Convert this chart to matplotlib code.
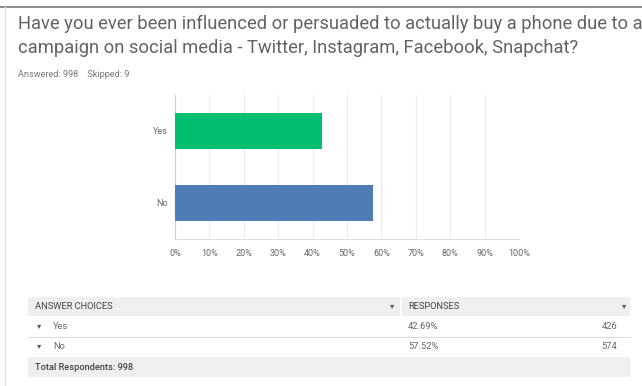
import matplotlib
matplotlib.use("Agg")
import matplotlib.pyplot as plt
from matplotlib.patches import Rectangle
from matplotlib.lines import Line2D

plt.rcParams["font.family"] = ["Roboto", "DejaVu Sans"]

categories = ["Yes", "No"]
shares = [42.69, 57.52]
counts = [426, 574]
bar_colors = ["#00bf6f", "#507cb6"]
ticks = list(range(0, 101, 10))
tick_labels = [f"{t}%" for t in ticks]
answered, skipped = 998, 9
title_lines = ["Have you ever been influenced or persuaded to actually buy a phone due to a",
               "campaign on social media - Twitter, Instagram, Facebook, Snapchat?"]

W, H = 642, 386
fig = plt.figure(figsize=(W / 100, H / 100), dpi=100)
fig.patch.set_facecolor("white")


def px(x, y):
    return x / W, 1 - y / H


# screenshot frame
fig.add_artist(Line2D([0, 1], [1 - 7 / H] * 2, color="#7a7a7a", lw=1.2))
fig.add_artist(Line2D([5 / W] * 2, [0, 1 - 7 / H], color="#e2e2e2", lw=1))

for line, y in zip(title_lines, [29, 53]):
    fig.text(*px(18, y), line, fontsize=13.2, color="#636363", va="baseline")
fig.text(*px(18, 77), f"Answered: {answered}    Skipped: {skipped}",
         fontsize=6.6, color="#7a7a7a", va="baseline")

# bar chart
left, right, top, bottom = 175, 519, 95, 239
ax = fig.add_axes([left / W, 1 - bottom / H, (right - left) / W, (bottom - top) / H])
ypos = list(range(len(categories)))
ax.barh(ypos, shares, height=0.5, color=bar_colors, zorder=3)
ax.set_xlim(0, 100)
ax.set_ylim(1.5, -0.5)
ax.set_xticks(ticks)
ax.set_xticklabels(tick_labels)
ax.set_yticks(ypos)
ax.set_yticklabels(categories)
ax.tick_params(length=0, labelsize=6.5, labelcolor="#666666")
ax.tick_params(axis="x", pad=7)
ax.tick_params(axis="y", pad=5)
ax.grid(axis="x", color="#ececec", lw=0.8, zorder=0)
for s in ["top", "right"]:
    ax.spines[s].set_visible(False)
ax.spines["left"].set_color("#d0d0d0")
ax.spines["bottom"].set_color("#e0e0e0")

# table
tl, tr, split = 28, 630, 401
gray = "#efefef"
fig.add_artist(Rectangle(px(tl, 316), (split - 1 - tl) / W, 19 / H,
                         transform=fig.transFigure, color=gray, lw=0))
fig.add_artist(Rectangle(px(split + 1, 316), (tr - split - 1) / W, 19 / H,
                         transform=fig.transFigure, color=gray, lw=0))
fig.add_artist(Rectangle(px(tl, 377), (tr - tl) / W, 20 / H,
                         transform=fig.transFigure, color=gray, lw=0))
fig.add_artist(Line2D([tl / W, tr / W], [1 - 336.5 / H] * 2, color="#dddddd", lw=0.8))

fs = 6.7
hdr = dict(fontsize=fs, color="#444444", va="center")
fig.text(*px(35, 306.5), "ANSWER CHOICES", **hdr)
fig.text(*px(408, 306.5), "RESPONSES", **hdr)
fig.text(*px(392, 306), "\u25BE", fontsize=6, color="#555555", va="center", ha="center")
fig.text(*px(624, 306), "\u25BE", fontsize=6, color="#555555", va="center", ha="center")

row_y = [326.5, 346.5]
for cat, sh, cnt, y in zip(categories, shares, counts, row_y):
    fig.text(*px(39, y), "\u25BE", fontsize=6, color="#555555", va="center", ha="center")
    fig.text(*px(53, y), cat, fontsize=fs, color="#666666", va="center")
    fig.text(*px(408, y), f"{sh:.2f}%", fontsize=fs, color="#666666", va="center")
    fig.text(*px(617, y), f"{cnt}", fontsize=fs, color="#666666", va="center", ha="right")

fig.text(*px(35, 367), f"Total Respondents: {answered}", fontsize=fs, color="#444444",
         va="center", fontweight="medium")

fig.savefig("out.png", dpi=100)
